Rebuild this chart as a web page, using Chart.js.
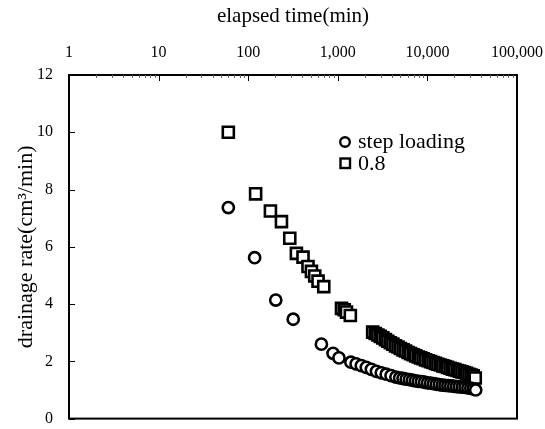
<!DOCTYPE html>
<html>
<head>
<meta charset="utf-8">
<script src="https://cdn.jsdelivr.net/npm/chart.js@4.4.0/dist/chart.umd.min.js"></script>
<style>
html, body { margin: 0; padding: 0; background: #fff; }
#wrap { width: 545px; height: 429px; }
</style>
</head>
<body>
<div id="wrap"><canvas id="drainageChart" width="545" height="429"></canvas></div>
<script>
// step loading (circles)
const stepTime = [60, 118, 203, 318, 656, 885, 1030,
    1400, 1600, 1830, 2080, 2370, 2700, 3060, 3470, 3930, 4450, 4900, 5350, 5800, 6300, 6800, 7350,
    7950, 8600, 9300, 10050, 10850, 11700, 12600, 13600, 14650, 15750, 16950, 18250, 19650, 21150,
    22750, 24500, 26350, 28350, 30500, 32600, 34600];
const stepRate = [7.37, 5.62, 4.14, 3.47, 2.60, 2.28, 2.12,
    1.97, 1.91, 1.85, 1.79, 1.72, 1.65, 1.60, 1.55, 1.50, 1.45, 1.42, 1.40, 1.38, 1.36, 1.34, 1.32,
    1.30, 1.29, 1.27, 1.25, 1.24, 1.22, 1.20, 1.19, 1.17, 1.16, 1.15, 1.14, 1.13, 1.12,
    1.11, 1.10, 1.09, 1.07, 1.06, 1.04, 1.00];

// 0.8 (squares)
const ratioTime = [60, 121, 177, 235, 291, 345, 409, 465, 508, 553, 602, 697, 1100, 1180, 1250, 1380,
    2450, 2620, 2800, 2980, 3180, 3400, 3620, 3860, 4120, 4400, 4700, 5000, 5350, 5700, 6100,
    6500, 6950, 7400, 7900, 8400, 8950, 9550, 10200, 10850, 11550, 12300, 13100, 13950, 14850,
    15800, 16800, 17900, 19000, 20200, 21500, 22900, 24300, 25800, 27400, 29100, 30800, 32500, 34200];
const ratioRate = [10.0, 7.85, 7.25, 6.88, 6.30, 5.77, 5.64, 5.31, 5.14, 4.98, 4.80, 4.61, 3.85, 3.80, 3.72, 3.60,
    3.02, 2.97, 2.92, 2.87, 2.82, 2.76, 2.70, 2.65, 2.60, 2.54, 2.50, 2.45, 2.40, 2.36, 2.31,
    2.27, 2.23, 2.19, 2.15, 2.12, 2.09, 2.05, 2.02, 1.99, 1.96, 1.93, 1.90, 1.87, 1.84,
    1.82, 1.79, 1.76, 1.73, 1.71, 1.68, 1.66, 1.63, 1.61, 1.58, 1.55, 1.52, 1.49, 1.42];

const xTickValues = [1, 10, 100, 1000, 10000, 100000];
const yTickValues = [0, 2, 4, 6, 8, 10, 12];
const seriesLabels = ['step loading', '0.8'];

const serif = "'Liberation Serif', 'Times New Roman', serif";

const toPoints = (xs, ys) => xs.map((t, i) => ({ x: t, y: ys[i] }));

// frame, inward ticks and the legend drawn inside the plot
const framePlugin = {
    id: 'frame',
    afterDraw(chart) {
        const { ctx, chartArea: a, scales: { x, y } } = chart;
        ctx.save();
        ctx.strokeStyle = '#000';
        ctx.lineWidth = 2;
        ctx.strokeRect(a.left, a.top, a.right - a.left, a.bottom - a.top);

        ctx.lineWidth = 1;
        ctx.beginPath();
        xTickValues.forEach(v => {
            const px = Math.round(x.getPixelForValue(v)) + 0.5;
            ctx.moveTo(px, a.top);
            ctx.lineTo(px, a.top + 6);
        });
        yTickValues.forEach(v => {
            const py = Math.round(y.getPixelForValue(v)) + 0.5;
            ctx.moveTo(a.left, py);
            ctx.lineTo(a.left + 6, py);
        });
        ctx.stroke();

        ctx.strokeStyle = '#666';
        ctx.beginPath();
        for (let d = 1; d < 100000; d *= 10) {
            for (let k = 2; k < 10; k++) {
                const px = Math.round(x.getPixelForValue(d * k)) + 0.5;
                ctx.moveTo(px, a.top);
                ctx.lineTo(px, a.top + 3);
            }
        }
        ctx.stroke();

        // legend
        ctx.strokeStyle = '#000';
        ctx.lineWidth = 2.4;
        ctx.fillStyle = '#000';
        ctx.font = '22px ' + serif;
        ctx.textBaseline = 'middle';
        ctx.beginPath();
        ctx.arc(345, 142, 4.8, 0, Math.PI * 2);
        ctx.stroke();
        ctx.fillText(seriesLabels[0], 358, 142);
        ctx.strokeRect(340.5, 158.5, 9.5, 9.5);
        ctx.fillText(seriesLabels[1], 358, 164);
        ctx.restore();
    }
};

new Chart(document.getElementById('drainageChart'), {
    type: 'scatter',
    data: {
        datasets: [
            {
                label: seriesLabels[0],
                data: toPoints(stepTime, stepRate),
                pointStyle: 'circle',
                pointRadius: 5.6,
                pointHoverRadius: 5.6,
                borderWidth: 2.6,
                borderColor: '#000',
                backgroundColor: '#fff'
            },
            {
                label: seriesLabels[1],
                data: toPoints(ratioTime, ratioRate),
                pointStyle: 'rect',
                pointRadius: 7.8,
                pointHoverRadius: 7.8,
                borderWidth: 2.6,
                borderColor: '#000',
                backgroundColor: '#fff'
            }
        ]
    },
    options: {
        responsive: false,
        animation: false,
        layout: { padding: { left: 0, right: 28, top: 0, bottom: 6 } },
        plugins: { legend: { display: false }, tooltip: { enabled: false } },
        scales: {
            x: {
                type: 'logarithmic',
                position: 'top',
                min: 1,
                max: 100000,
                afterBuildTicks: s => { s.ticks = xTickValues.map(v => ({ value: v, major: true })); },
                afterFit: s => { s.height = 75; s.paddingLeft = 0; s.paddingRight = 0; },
                ticks: {
                    callback: v => Number(v).toLocaleString('en-US'),
                    font: { family: serif, size: 16 },
                    color: '#000',
                    padding: 13,
                    maxRotation: 0,
                    autoSkip: false
                },
                grid: { display: false, drawTicks: false },
                border: { display: false },
                title: {
                    display: true,
                    text: 'elapsed time(min)',
                    font: { family: serif, size: 21 },
                    color: '#000',
                    padding: { top: 4, bottom: 0 }
                }
            },
            y: {
                type: 'linear',
                min: 0,
                max: 12,
                afterBuildTicks: s => { s.ticks = yTickValues.map(v => ({ value: v })); },
                afterFit: s => { s.width = 69; s.paddingTop = 0; s.paddingBottom = 0; },
                ticks: {
                    font: { family: serif, size: 16 },
                    color: '#000',
                    padding: 16
                },
                grid: { display: false, drawTicks: false },
                border: { display: false },
                title: {
                    display: true,
                    text: 'drainage rate(cm³/min)',
                    font: { family: serif, size: 22 },
                    color: '#000',
                    padding: { top: 13, bottom: 0 }
                }
            }
        }
    },
    plugins: [framePlugin]
});
</script>
</body>
</html>
